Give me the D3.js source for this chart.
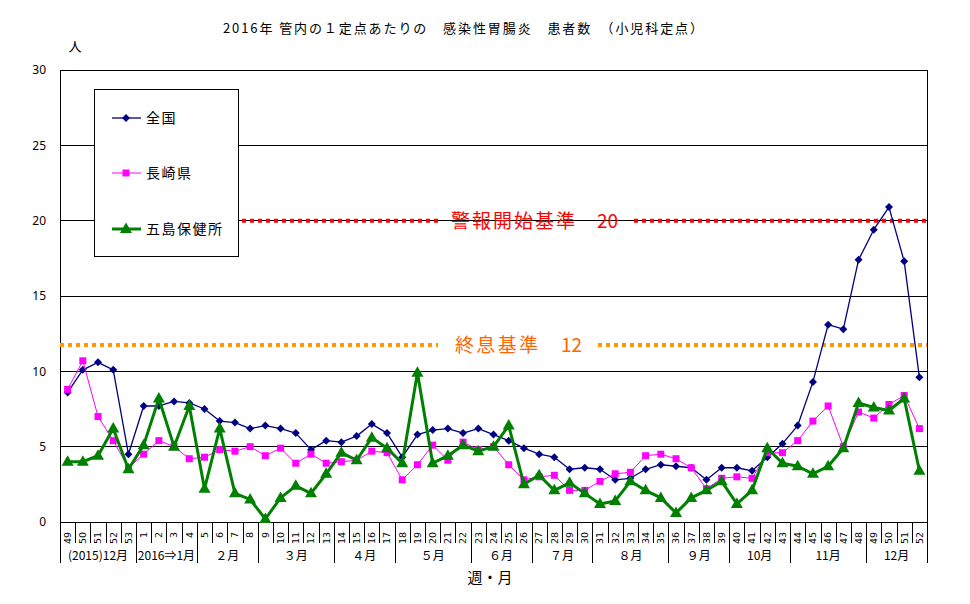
<!DOCTYPE html>
<html><head><meta charset="utf-8">
<script src="https://cdn.jsdelivr.net/npm/d3@7"></script>
<style>
html,body{margin:0;padding:0;background:#fff;}
text{font-family:"Noto Sans CJK JP","Noto Sans",sans-serif;}
</style></head>
<body><svg id="c" width="970" height="604"></svg>
<script>
const weeks = ["49","50","51","52","53","1","2","3","4","5","6","7","8","9","10","11","12","13","14","15","16","17","18","19","20","21","22","23","24","25","26","27","28","29","30","31","32","33","34","35","36","37","38","39","40","41","42","43","44","45","46","47","48","49","50","51","52"];
const monthLabels = ["(2015)12月","2016⇒1月","２月","３月","４月","５月","６月","７月","８月","９月","10月","11月","12月"];
const monthSpans = [5,4,4,5,4,5,4,4,5,4,4,5,4];
const zenkoku = [8.6,10.1,10.6,10.1,4.5,7.7,7.7,8.0,7.9,7.5,6.7,6.6,6.2,6.4,6.2,5.9,4.8,5.4,5.3,5.7,6.5,5.9,4.3,5.8,6.1,6.2,5.9,6.2,5.8,5.4,4.9,4.5,4.3,3.5,3.6,3.5,2.8,2.9,3.5,3.8,3.7,3.6,2.8,3.6,3.6,3.4,4.3,5.2,6.4,9.3,13.1,12.8,17.4,19.4,20.9,17.3,9.6];
const nagasaki = [8.8,10.7,7.0,5.4,3.6,4.5,5.4,5.0,4.2,4.3,4.8,4.7,5.0,4.4,4.9,3.9,4.5,3.9,4.0,4.1,4.7,4.6,2.8,3.8,5.1,4.1,5.3,4.8,5.0,3.8,2.8,3.0,3.1,2.1,2.1,2.7,3.2,3.3,4.4,4.5,4.2,3.6,2.2,2.9,3.0,2.9,4.6,4.6,5.4,6.7,7.7,5.0,7.3,6.9,7.8,8.4,6.2];
const goto = [4.0,4.0,4.4,6.2,3.5,5.1,8.2,5.0,7.7,2.2,6.2,1.9,1.5,0.2,1.6,2.4,1.9,3.2,4.6,4.1,5.6,4.9,3.9,9.9,3.9,4.4,5.1,4.7,5.0,6.4,2.5,3.1,2.1,2.6,1.9,1.2,1.4,2.7,2.1,1.6,0.6,1.6,2.1,2.7,1.2,2.1,4.9,3.9,3.7,3.2,3.7,4.9,7.9,7.6,7.4,8.2,3.4];
const yTicks = [0,5,10,15,20,25,30];
const alarmLevel = 20, endLevel = 11.75;
const titleText = "2016年 管内の１定点あたりの　感染性胃腸炎　患者数　（小児科定点）";

const svg = d3.select("#c");
const L = 60, R = 927, T = 70, B = 522;
const x = d3.scaleBand().domain(d3.range(weeks.length)).range([L, R]).padding(0);
const y = d3.scaleLinear().domain([0, 30]).range([B, T]);
const cx = i => x(i) + x.bandwidth() / 2;

// title
svg.append("text").attr("x", 223).attr("y", 33).attr("font-size", 13)
  .attr("textLength", 480).attr("lengthAdjust", "spacing").text(titleText);
svg.append("text").attr("x", 75).attr("y", 51).attr("font-size", 13).attr("text-anchor", "middle").text("人");

// grid
svg.append("g").selectAll("line").data(yTicks.filter(d => d > 0)).join("line")
  .attr("x1", L).attr("x2", R).attr("y1", d => y(d)).attr("y2", d => y(d))
  .attr("stroke", "#000").attr("stroke-width", 1).attr("shape-rendering", "crispEdges");

// y axis
const yAxis = d3.axisLeft(y).tickValues(yTicks).tickSize(0).tickPadding(14);
const gy = svg.append("g").attr("transform", `translate(${L},0)`).call(yAxis);
gy.select(".domain").attr("stroke", "#000").attr("shape-rendering", "crispEdges");
gy.selectAll("text").attr("font-size", 12).attr("fill", "#000")
  .style("font-family", "'Noto Sans','DejaVu Sans',sans-serif");
// right border
svg.append("line").attr("x1", R).attr("x2", R).attr("y1", T).attr("y2", B)
  .attr("stroke", "#000").attr("shape-rendering", "crispEdges");

// x axis
svg.append("line").attr("x1", L).attr("x2", R).attr("y1", B).attr("y2", B)
  .attr("stroke", "#000").attr("shape-rendering", "crispEdges");
const xAxis = d3.axisBottom(x).tickSize(0).tickFormat(i => weeks[i]);
const gx = svg.append("g").attr("transform", `translate(0,${B})`).call(xAxis);
gx.select(".domain").remove();
gx.selectAll("text").attr("font-size", 9.5).attr("fill", "#000")
  .style("font-family", "'DejaVu Sans',sans-serif")
  .attr("text-anchor", "end").attr("dy", "0.35em")
  .attr("transform", "translate(0,10) rotate(-90)").attr("x", 0).attr("y", 0);
// week separators
svg.append("g").selectAll("line").data(d3.range(weeks.length + 1)).join("line")
  .attr("x1", i => Math.round(L + i * x.step()) + 0.5).attr("x2", i => Math.round(L + i * x.step()) + 0.5)
  .attr("y1", B).attr("y2", B + 21).attr("stroke", "#000");
// month separators & labels
const bounds = [0]; monthSpans.forEach(s => bounds.push(bounds[bounds.length - 1] + s));
svg.append("g").selectAll("line").data(bounds).join("line")
  .attr("x1", i => Math.round(L + i * x.step()) + 0.5).attr("x2", i => Math.round(L + i * x.step()) + 0.5)
  .attr("y1", B).attr("y2", 563).attr("stroke", "#000");
svg.append("g").selectAll("text").data(monthLabels).join("text")
  .attr("x", (d, k) => L + (bounds[k] + bounds[k + 1]) / 2 * x.step())
  .attr("y", 560).attr("text-anchor", "middle").attr("font-size", 12).text(d => d);
svg.append("text").attr("x", 490).attr("y", 583).attr("text-anchor", "middle")
  .attr("font-size", 15).text("週・月");

// reference lines
function refSeg(x1, x2, v, col) {
  svg.append("line").attr("x1", x1).attr("x2", x2).attr("y1", y(v)).attr("y2", y(v))
    .attr("stroke", col).attr("stroke-width", 4).attr("stroke-dasharray", "4,4");
}
refSeg(242, 438, alarmLevel, "#FF0000");
refSeg(634, R, alarmLevel, "#FF0000");
refSeg(L, 438, endLevel, "#FF9900");
refSeg(598, R, endLevel, "#FF9900");
svg.append("text").attr("x", 451).attr("y", y(alarmLevel) + 7).attr("font-size", 19)
  .attr("fill", "#FF0000").attr("textLength", 124).attr("lengthAdjust", "spacing").text("警報開始基準");
svg.append("text").attr("x", 597).attr("y", y(alarmLevel) + 7).attr("font-size", 19)
  .attr("fill", "#FF0000").text(alarmLevel);
svg.append("text").attr("x", 455).attr("y", y(endLevel) + 7).attr("font-size", 19)
  .attr("fill", "#FF6600").attr("textLength", 83).attr("lengthAdjust", "spacing").text("終息基準");
svg.append("text").attr("x", 561).attr("y", y(endLevel) + 7).attr("font-size", 19)
  .attr("fill", "#FF6600").text(12);

// series
const diamond = "M0,-4L4,0L0,4L-4,0Z";
const square = "M-3.5,-3.5H3.5V3.5H-3.5Z";
const tri = "M0,-6.5L6,4L-6,4Z";
const series = [
  {name: "全国", vals: zenkoku, color: "#000080", w: 1.3, m: diamond},
  {name: "長崎県", vals: nagasaki, color: "#FF00FF", w: 1, m: square},
  {name: "五島保健所", vals: goto, color: "#008000", w: 3, m: tri}
];
const line = d3.line().x((d, i) => cx(i)).y(d => y(d));
series.forEach(s => {
  svg.append("path").attr("d", line(s.vals)).attr("fill", "none")
    .attr("stroke", s.color).attr("stroke-width", s.w).attr("stroke-linejoin", "round");
  svg.append("g").selectAll("path").data(s.vals).join("path")
    .attr("d", s.m).attr("fill", s.color)
    .attr("transform", (d, i) => `translate(${cx(i)},${y(d)})`);
});

// legend
const lg = svg.append("g");
lg.append("rect").attr("x", 94.5).attr("y", 89.5).attr("width", 144).attr("height", 167)
  .attr("fill", "#fff").attr("stroke", "#000");
const ly = [118, 173, 229];
series.forEach((s, k) => {
  lg.append("line").attr("x1", 112).attr("x2", 141).attr("y1", ly[k]).attr("y2", ly[k])
    .attr("stroke", s.color).attr("stroke-width", s.w);
  lg.append("path").attr("d", s.m).attr("fill", s.color).attr("transform", `translate(126,${ly[k]})`);
  lg.append("text").attr("x", 146).attr("y", ly[k] + 5).attr("font-size", 14)
    .attr("letter-spacing", 1.5).text(s.name);
});
</script></body></html>
